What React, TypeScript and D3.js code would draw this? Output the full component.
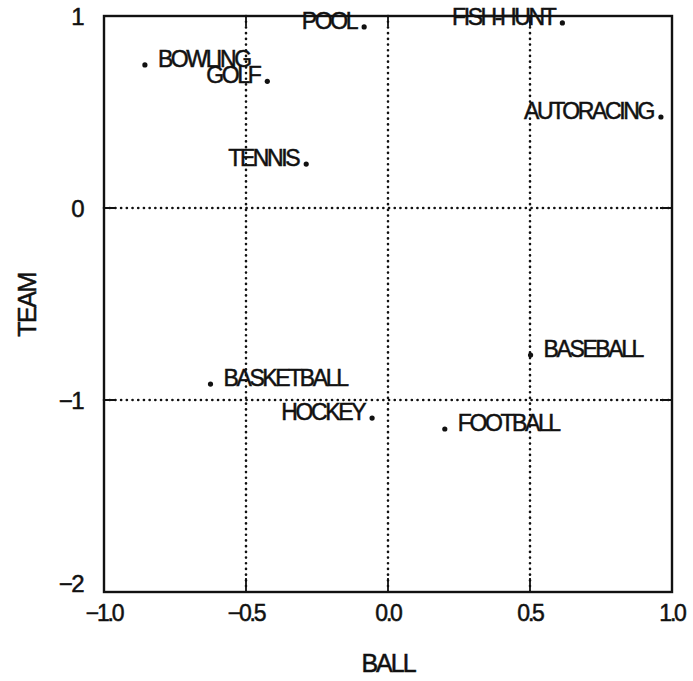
import React from "react";
import * as d3 from "d3";

const sports = ["BOWLING", "GOLF", "TENNIS", "POOL", "FISH-HUNT", "AUTORACING", "BASEBALL", "FOOTBALL", "HOCKEY", "BASKETBALL"];
const ballValues = [-0.856, -0.425, -0.288, -0.084, 0.614, 0.961, 0.502, 0.2, -0.056, -0.625];
const teamValues = [0.745, 0.66, 0.229, 0.943, 0.964, 0.474, -0.766, -1.151, -1.094, -0.917];
const labelSides = ["right", "left", "left", "left", "left", "left", "right", "right", "left", "right"];
const xTicks = [-1.0, -0.5, 0.0, 0.5, 1.0];
const xTickLabels = ["−1.0", "−0.5", "0.0", "0.5", "1.0"];
const yTicks = [1, 0, -1, -2];
const yTickLabels = ["1", "0", "−1", "−2"];
const xGrid = [-0.5, 0, 0.5];
const yGrid = [0, -1];

export default function App() {
  const W = 693, H = 681;
  const left = 104, right = 672, top = 16, bottom = 592;
  const x = d3.scaleLinear().domain([-1, 1]).range([left, right]);
  const y = d3.scaleLinear().domain([-2, 1]).range([bottom, top]);
  const font = "'Liberation Sans', Arial, Helvetica, sans-serif";
  const data = sports.map((s, i) => ({ name: s, bx: ballValues[i], ty: teamValues[i], side: labelSides[i] }));
  const txt = { fill: "#111", stroke: "#111", strokeWidth: 0.5 };

  return (
    <svg width={W} height={H} style={{ position: "absolute", left: 0, top: 0, background: "#fff" }} fontFamily={font}>
      <rect x={0} y={0} width={W} height={H} fill="#fff" />
      {/* grid */}
      {xGrid.map((v) => (
        <line key={"gx" + v} x1={x(v)} x2={x(v)} y1={top} y2={bottom} stroke="#111" strokeWidth={2.6}
          strokeDasharray="0.1 5.6" strokeLinecap="round" />
      ))}
      {yGrid.map((v) => (
        <line key={"gy" + v} x1={left} x2={right} y1={y(v)} y2={y(v)} stroke="#111" strokeWidth={2.6}
          strokeDasharray="0.1 5.6" strokeLinecap="round" />
      ))}
      {/* inner ticks */}
      {xGrid.map((v) => (
        <g key={"tx" + v}>
          <line x1={x(v)} x2={x(v)} y1={bottom} y2={bottom - 14} stroke="#111" strokeWidth={1.8} />
          <line x1={x(v)} x2={x(v)} y1={top} y2={top + 10} stroke="#111" strokeWidth={1.8} />
        </g>
      ))}
      {yGrid.map((v) => (
        <g key={"ty" + v}>
          <line x1={left} x2={left + 12} y1={y(v)} y2={y(v)} stroke="#111" strokeWidth={2} />
          <line x1={right} x2={right - 12} y1={y(v)} y2={y(v)} stroke="#111" strokeWidth={2} />
        </g>
      ))}
      {/* frame */}
      <rect x={left} y={top} width={right - left} height={bottom - top} fill="none" stroke="#111" strokeWidth={2.4} />
      {/* y tick labels */}
      {yTicks.map((v, i) => (
        <text key={"yl" + v} x={83} y={y(v) + (v === -2 ? 0 : 9)} textAnchor="end" fontSize={24} letterSpacing={-1.5} {...txt}>
          {yTickLabels[i]}
        </text>
      ))}
      {/* x tick labels */}
      {xTicks.map((v, i) => (
        <text key={"xl" + v} x={x(v)} y={621} textAnchor="middle" fontSize={23} letterSpacing={-2.2} {...txt}>
          {xTickLabels[i]}
        </text>
      ))}
      {/* axis titles */}
      <text x={388} y={672} textAnchor="middle" fontSize={25} letterSpacing={-2} {...txt}>BALL</text>
      <text transform={`translate(36,305) rotate(-90)`} textAnchor="middle" fontSize={25} letterSpacing={-1.5} {...txt}>TEAM</text>
      {/* points */}
      {data.map((d) => (
        <g key={d.name}>
          <circle cx={x(d.bx)} cy={y(d.ty)} r={2.6} fill="#111" />
          <text x={x(d.bx) + (d.side === "left" ? -8 : 13)} y={y(d.ty) + 2}
            textAnchor={d.side === "left" ? "end" : "start"} fontSize={23} letterSpacing={-2.4} {...txt}>
            {d.name}
          </text>
        </g>
      ))}
    </svg>
  );
}
